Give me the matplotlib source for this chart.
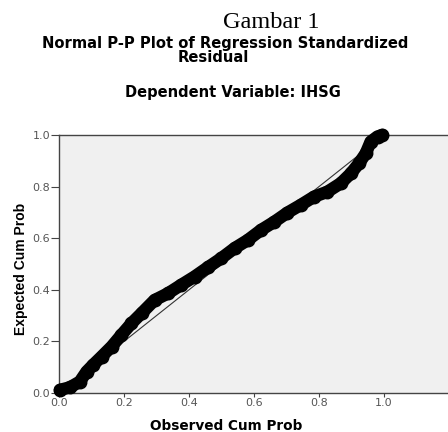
import matplotlib
matplotlib.use("Agg")
import matplotlib.pyplot as plt

# Data (Observed Cum Prob, Expected Cum Prob)
observed = [0.003, 0.034, 0.064, 0.085, 0.105, 0.131, 0.162, 0.192, 0.223, 0.254,
            0.294, 0.335, 0.376, 0.417, 0.458, 0.499, 0.540, 0.581, 0.622, 0.663,
            0.703, 0.744, 0.785, 0.826, 0.867, 0.898, 0.923, 0.944, 0.959, 0.980, 0.995]
expected = [0.012, 0.022, 0.044, 0.083, 0.109, 0.141, 0.180, 0.225, 0.270, 0.309,
            0.360, 0.386, 0.419, 0.451, 0.487, 0.522, 0.561, 0.593, 0.632, 0.664,
            0.699, 0.729, 0.761, 0.780, 0.813, 0.851, 0.890, 0.929, 0.974, 0.994, 1.000]
ref_line = [0.0, 1.0]
tick_values = [0.0, 0.2, 0.4, 0.6, 0.8, 1.0]
tick_labels = ["0.0", "0.2", "0.4", "0.6", "0.8", "1.0"]

W, H = 448, 432
fig = plt.figure(figsize=(W / 100, H / 100), dpi=100)
fig.patch.set_facecolor("white")

ax = fig.add_axes([59 / W, (H - 393) / H, 390 / W, 258 / H])
ax.set_facecolor("#f0f0f0")
ax.set_xlim(0, 1.2)
ax.set_ylim(0, 1.0)

ax.plot(ref_line, ref_line, color="#333333", lw=0.8, zorder=2)
ax.plot(observed, expected, "-o", color="black", lw=9, ms=9,
        solid_capstyle="round", solid_joinstyle="round", zorder=3, clip_on=False)

for s in ["left", "bottom", "top"]:
    ax.spines[s].set_color("#444444")
    ax.spines[s].set_linewidth(1.0)
ax.spines["right"].set_visible(False)

ax.set_xticks(tick_values)
ax.set_xticklabels(tick_labels, family="DejaVu Sans")
ax.set_yticks(tick_values)
ax.set_yticklabels(tick_labels, family="DejaVu Sans")
ax.tick_params(axis="x", length=3, width=0.8, color="#444444", pad=0.5,
               labelsize=8, labelcolor="#555555")
ax.tick_params(axis="y", length=6, width=0.8, color="#444444", pad=0.5,
               labelsize=8, labelcolor="#555555")

# Texts
fig.text(271 / W, 1 - 28.5 / H, "Gambar 1", family="Liberation Serif", fontsize=17.5,
         ha="center", va="baseline", color="black")
fig.text(225 / W, 1 - 47.8 / H, "Normal P-P Plot of Regression Standardized",
         family="DejaVu Sans", weight="bold", fontsize=10.6, ha="center", va="baseline")
fig.text(213 / W, 1 - 62.2 / H, "Residual",
         family="DejaVu Sans", weight="bold", fontsize=10.6, ha="center", va="baseline")
fig.text(233 / W, 1 - 97.3 / H, "Dependent Variable: IHSG",
         family="DejaVu Sans", weight="bold", fontsize=10.5, ha="center", va="baseline")
fig.text(226 / W, 1 - 430.5 / H, "Observed Cum Prob",
         family="DejaVu Sans", weight="bold", fontsize=9.8, ha="center", va="baseline")
fig.text(21 / W, 1 - 269 / H, "Expected Cum Prob", rotation=90,
         family="Liberation Sans", weight="bold", fontsize=10, ha="center", va="center")

fig.savefig("out.png", dpi=100)
